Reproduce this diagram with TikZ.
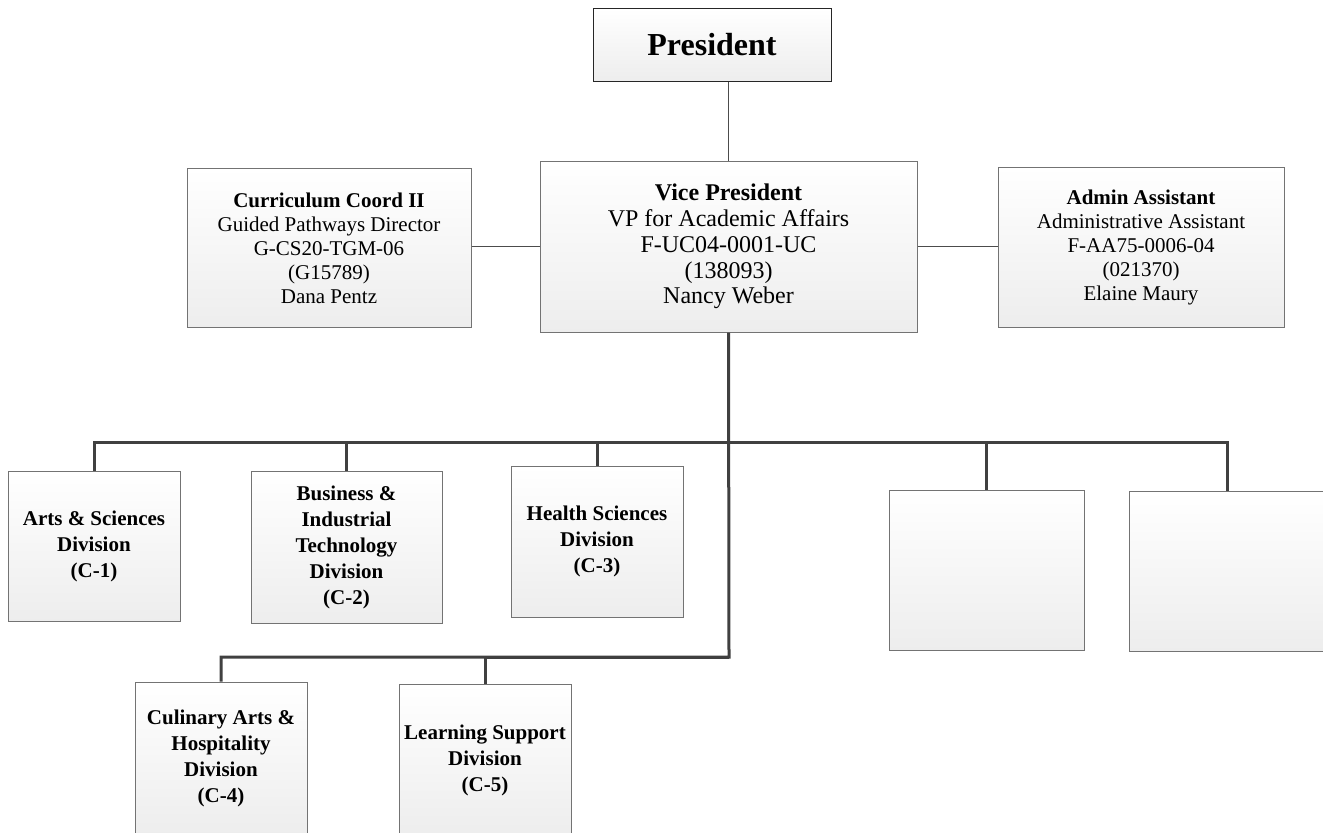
\documentclass[tikz,border=0pt]{standalone}
\usepackage{fontspec}
\setmainfont{Liberation Serif}
\usetikzlibrary{positioning}

\tikzset{
	unit/.style={draw=black!55, line width=0.75pt, top color=white, bottom color=black!7,
		align=center, inner sep=2pt, font=\fontsize{15.75}{18}\selectfont},
	division/.style={unit, font=\fontsize{15.75}{19.5}\selectfont\bfseries},
	dims/.style 2 args={minimum width=#1*0.75pt, minimum height=#2*0.75pt},
	thinlink/.style={draw=black!70, line width=0.75pt},
	thicklink/.style={draw=black!75, line width=2.25pt},
}

\begin{document}
\begin{tikzpicture}[x=0.75pt, y=-0.75pt]
		\useasboundingbox (0,0) rectangle (1323,832);
		\clip (0,0) rectangle (1323,832);
		% top of the chart
		\node[unit, dims={238}{73}, draw=black!85, font=\fontsize{24}{28}\selectfont\bfseries] (pres) at (712,44.5) {President};
		\node[unit, dims={377}{171}, font=\fontsize{18}{19.4}\selectfont] (vp) at (728.5,246.5)
			{\textbf{Vice President}\\VP for Academic Affairs\\F-UC04-0001-UC\\(138093)\\Nancy Weber};
		\node[unit, dims={284}{159}] (curr) at (329,248)
			{\textbf{Curriculum Coord II}\\Guided Pathways Director\\G-CS20-TGM-06\\(G15789)\\Dana Pentz};
		\node[unit, dims={286}{160}] (admin) at (1141,247)
			{\textbf{Admin Assistant}\\Administrative Assistant\\F-AA75-0006-04\\(021370)\\Elaine Maury};
		% divisions
		\node[division, dims={172}{150}] (arts) at (94,546)
			{Arts \& Sciences\\Division\\(C-1)};
		\node[division, dims={191}{152}] (biz) at (346.5,547)
			{Business \&\\Industrial\\Technology\\Division\\(C-2)};
		\node[division, dims={172}{151}] (health) at (597,541.5)
			{Health Sciences\\Division\\(C-3)};
		\node[unit, dims={195}{160}] (blank1) at (986.5,570) {};
		\node[unit, dims={196}{160}] (blank2) at (1227,571) {};
		\node[division, dims={172}{152}] (culin) at (221,758)
			{Culinary Arts \&\\Hospitality\\Division\\(C-4)};
		\node[division, dims={172}{152}] (learn) at (485,760)
			{Learning Support\\Division\\(C-5)};

		\coordinate (upbus) at (729,442);
		\coordinate (lowbus) at (729,657);

		\draw[thinlink] (vp.north) -- (vp.north |- pres.south);
		\draw[thinlink] (curr.east |- vp.west) -- (vp.west);
		\draw[thinlink] (vp.east) -- (vp.east -| admin.west);

		\draw[thicklink] (vp.south) -- (lowbus) -| (culin.north);
		\draw[thicklink] (lowbus) -| (learn.north);
		\draw[thicklink] (arts.north) |- (upbus) -| (blank2.north);
		\foreach \d in {biz, health, blank1}
			\draw[thicklink] (\d.north) -- (\d.north |- upbus);
	\end{tikzpicture}
\end{document}
